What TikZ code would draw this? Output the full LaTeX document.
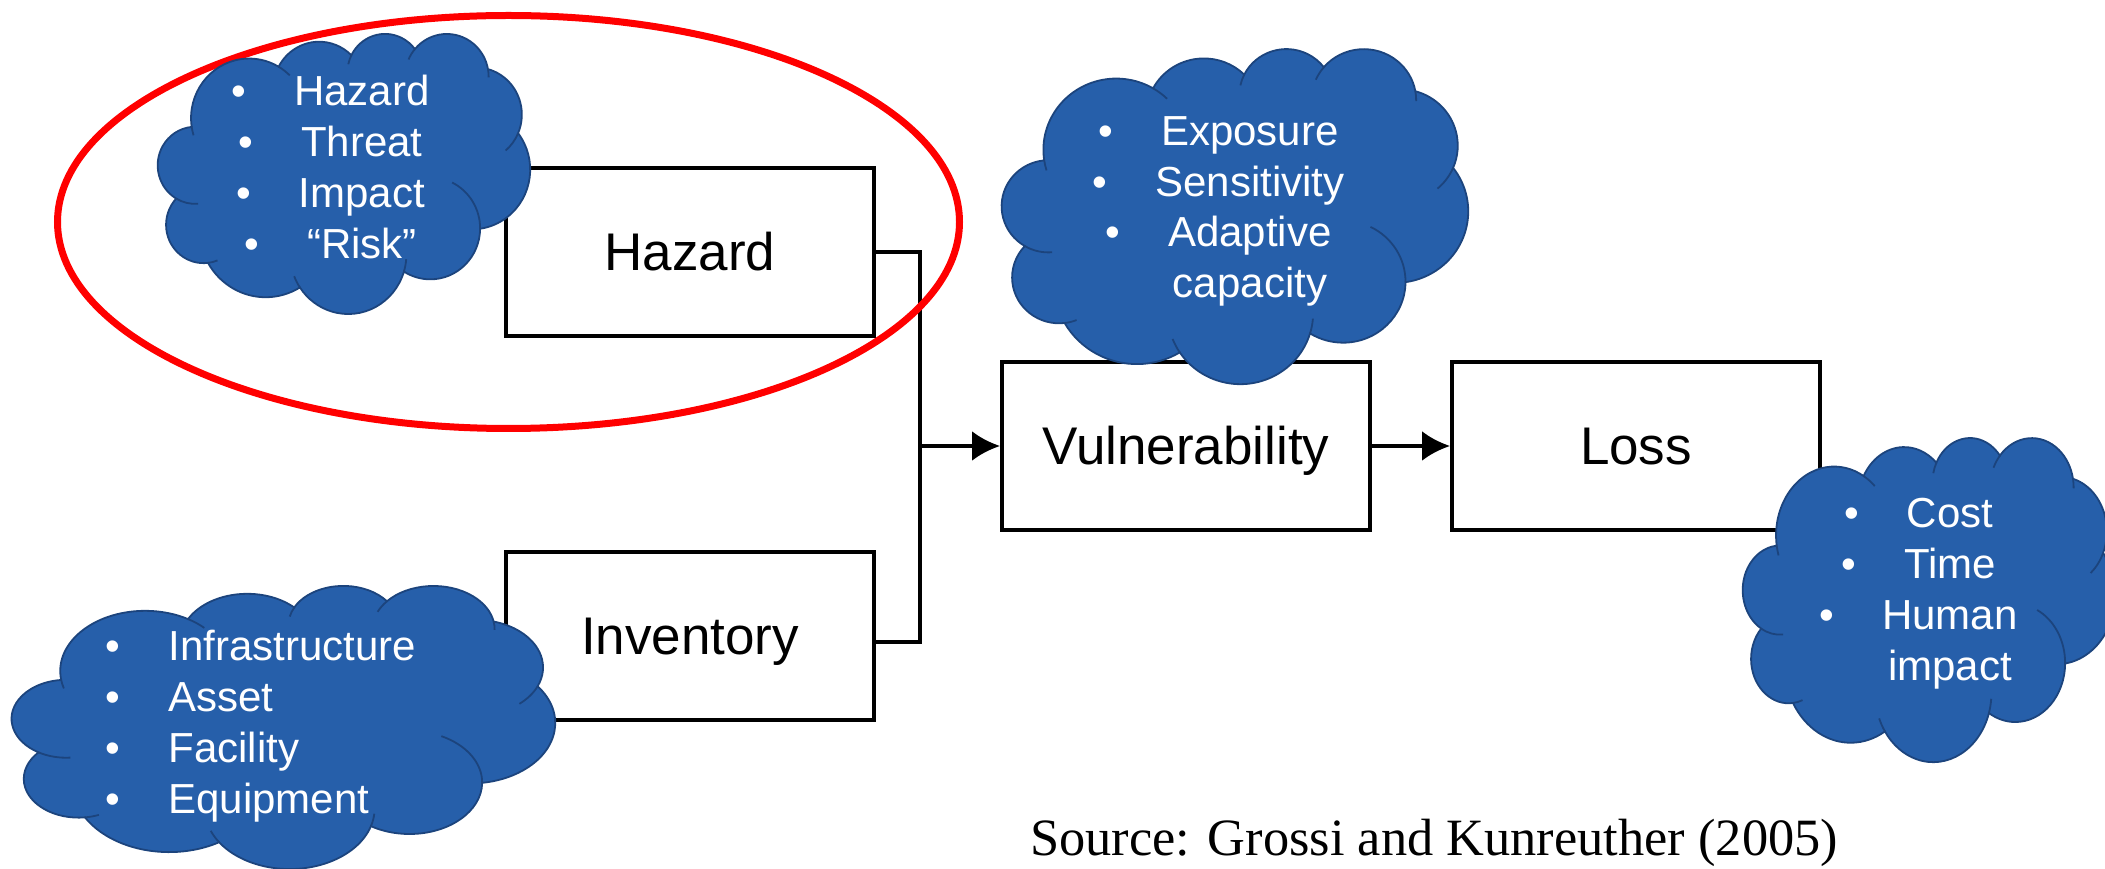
\documentclass[tikz,border=0pt]{standalone}
\usepackage{fontspec}
\setmainfont{Liberation Sans}
\newfontfamily\serifsrc{Liberation Serif}
\usetikzlibrary{arrows.meta}

\definecolor{cloudFill}{RGB}{38,95,170}
\definecolor{cloudDraw}{RGB}{28,68,125}
\definecolor{ringColor}{RGB}{255,0,0}

\tikzset{
  cloudbody/.style={fill=cloudFill,draw=cloudDraw,line width=0.9pt},
  cloudfold/.style={draw=cloudDraw,line width=0.9pt},
  cloudtext/.style={text=white,inner sep=0pt,font=\fontsize{21}{25.4}\selectfont},
  stage/.style={draw,line width=2pt,minimum width=184pt,minimum height=84pt,inner sep=0pt,
    font=\fontsize{26.5}{30}\selectfont,text height=19pt,text depth=0pt},
  link/.style={draw,line width=2pt},
}
\newcommand{\bul}{\llap{•\hspace{24pt}}}

% cloud outline in a 43.2 x 43.2 box, y pointing down
\newcommand{\cloudpath}{%
\path[cloudbody] (3.900,14.370)
  arc[start angle=172.25,end angle=300.36,x radius=6.753,y radius=9.190]
  arc[start angle=-152.02,end angle=-45.46,x radius=5.333,y radius=7.267]
  arc[start angle=-153.49,end angle=-37.33,x radius=4.365,y radius=5.945]
  arc[start angle=-139.72,end angle=-10.21,x radius=4.857,y radius=6.595]
  arc[start angle=-74.77,end angle=23.21,x radius=5.333,y radius=7.273]
  arc[start angle=-37.53,end angle=81.86,x radius=6.775,y radius=9.220]
  arc[start angle=0.46,end angle=121.98,x radius=5.785,y radius=7.867]
  arc[start angle=16.85,end angle=146.24,x radius=6.752,y radius=9.215]
  arc[start angle=58.99,end angle=150.19,x radius=7.720,y radius=10.543]
  arc[start angle=83.31,end angle=223.11,x radius=4.360,y radius=5.918]
  arc[start angle=120.35,end angle=264.11,x radius=4.345,y radius=5.945]
  -- cycle;
\foreach \cx/\cy/\a/\b/\rx/\ry in {
  4.308/20.417/85.55/120.35/4.345/5.945,
  5.296/29.591/68.23/83.31/4.360/5.918,
  22.093/34.142/146.24/158.47/6.752/9.215,
  22.093/34.142/4.74/16.85/6.752/9.215,
  31.619/30.139/-64.02/0.46/5.785/7.867,
  36.916/12.592/23.21/49.69/5.333/7.273,
  33.537/6.744/-10.21/0.83/4.857/6.595,
  33.537/6.744/-156.28/-139.72/4.857/6.595,
  26.361/6.085/-167.72/-153.49/4.365/5.945,
  10.591/13.131/300.36/314.22/6.753/9.190,
  10.591/13.131/163.19/172.25/6.753/9.190}
  \path[cloudfold] ({\cx+\rx*cos(\a)},{\cy+\ry*sin(\a)})
    arc[start angle=\a,end angle=\b,x radius=\rx,y radius=\ry];
}

\begin{document}
\begin{tikzpicture}[x=0.5pt,y=0.5pt]
\path[use as bounding box] (0,0) rectangle (2105,868);

% boxes
\node[stage] (hazard) at (690,616) {Hazard};
\node[stage] (inventory) at (690,232) {Inventory};
\node[stage] (vuln) at (1186,422) {Vulnerability};
\node[stage] (loss) at (1636,422) {Loss};

% connectors
\coordinate (join) at (920,422);
\draw[link] (hazard.east) -| (join);
\draw[link] ([yshift=-3pt]inventory.east) -| (join);
\draw[link,-{Latex[length=14pt,width=15pt]}] (join) -- (vuln.west);
\draw[link,-{Latex[length=14pt,width=15pt]}] (vuln.east) -- (loss.west);

% red ring
\draw[ringColor,line width=3.5pt] (508.5,646) ellipse[x radius=451,y radius=206.5];

% clouds
\begin{scope}[xshift=79pt,yshift=417.5pt,x=4.306pt,y=-3.241pt]
\cloudpath
\end{scope}
\node[cloudtext,align=center,anchor=north] (hazardlist) at (362,793)
  {\bul Hazard\\\bul Threat\\\bul Impact\\\bul “Risk”};

\begin{scope}[xshift=501pt,yshift=410pt,x=5.394pt,y=-3.877pt]
\cloudpath
\end{scope}
\node[cloudtext,align=center,anchor=north] (vulnlist) at (1250,752)
  {\bul Exposure\\\bul Sensitivity\\\bul Adaptive\\capacity};

\begin{scope}[xshift=6pt,yshift=141.5pt,x=6.285pt,y=-3.276pt]
\cloudpath
\end{scope}
\node[cloudtext,align=left,anchor=north west] (inventorylist) at (168,238)
  {\bul Infrastructure\\\bul Asset\\\bul Facility\\\bul Equipment};

\begin{scope}[xshift=871.5pt,yshift=215.5pt,x=4.306pt,y=-3.750pt]
\cloudpath
\end{scope}
\node[cloudtext,align=center,anchor=north] (losslist) at (1950,370)
  {\bul Cost\\\bul Time\\\bul Human\\impact};

% source
\node[anchor=base west,inner sep=0pt,font=\serifsrc\fontsize{26.2}{30}\selectfont] (source) at (1030,13)
  {Source: Grossi and Kunreuther (2005)};
\end{tikzpicture}
\end{document}
